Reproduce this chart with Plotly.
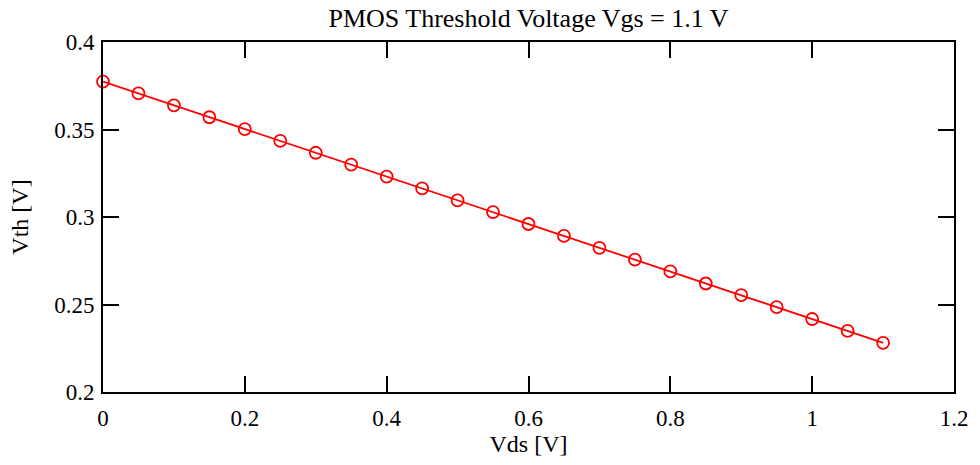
import plotly.graph_objects as go

vds = [0.00, 0.05, 0.10, 0.15, 0.20, 0.25, 0.30, 0.35, 0.40, 0.45, 0.50, 0.55,
       0.60, 0.65, 0.70, 0.75, 0.80, 0.85, 0.90, 0.95, 1.00, 1.05, 1.10]
vth = [0.3774, 0.3706, 0.3638, 0.3570, 0.3502, 0.3435, 0.3367, 0.3299, 0.3231,
       0.3163, 0.3095, 0.3028, 0.2960, 0.2892, 0.2824, 0.2756, 0.2689, 0.2620,
       0.2553, 0.2485, 0.2417, 0.2349, 0.2281]

x_ticks = [0, 0.2, 0.4, 0.6, 0.8, 1.0, 1.2]
x_labels = ["0", "0.2", "0.4", "0.6", "0.8", "1", "1.2"]
y_ticks = [0.2, 0.25, 0.3, 0.35, 0.4]
y_labels = ["0.2", "0.25", "0.3", "0.35", "0.4"]

font_family = "Liberation Serif, Times New Roman, serif"

fig = go.Figure()
fig.add_trace(go.Scatter(
    x=vds, y=vth, mode="lines+markers",
    line=dict(color="#ff0000", width=1.8),
    marker=dict(symbol="circle-open", size=12, color="#ff0000",
                line=dict(width=1.8, color="#ff0000")),
    showlegend=False, cliponaxis=False,
))

axis_common = dict(
    showline=True, linecolor="black", linewidth=2, mirror="ticks",
    ticks="inside", ticklen=16, tickwidth=2, tickcolor="black",
    showgrid=False, zeroline=False,
    tickfont=dict(family=font_family, size=23, color="black"),
)

fig.update_layout(
    width=980, height=465,
    margin=dict(l=103, r=24, t=42, b=71),
    paper_bgcolor="white", plot_bgcolor="white",
    font=dict(family=font_family, size=23, color="black"),
    title=dict(text="PMOS Threshold Voltage Vgs = 1.1 V", x=0.5, xref="paper",
               xanchor="center", y=0.962, yanchor="middle",
               font=dict(family=font_family, size=26, color="black")),
    xaxis=dict(range=[0, 1.2], tickvals=x_ticks, ticktext=x_labels,
               ticklabelstandoff=4,
               title=dict(text="Vds [V]", standoff=6,
                          font=dict(family=font_family, size=24, color="black")),
               **axis_common),
    yaxis=dict(range=[0.2, 0.4], tickvals=y_ticks, ticktext=y_labels,
               ticklabelstandoff=2,
               title=dict(text="Vth [V]", standoff=19,
                          font=dict(family=font_family, size=24, color="black")),
               **axis_common),
)

fig.write_html("out.html")
